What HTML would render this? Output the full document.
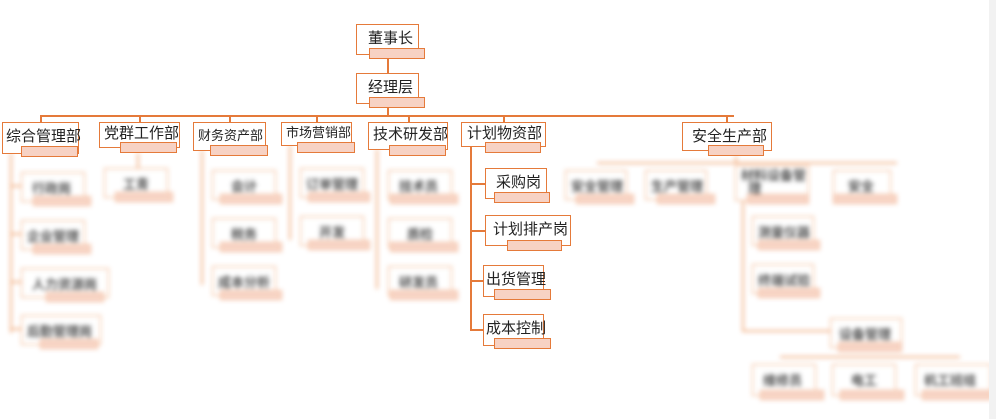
<!DOCTYPE html>
<html><head><meta charset="utf-8"><style>
body{margin:0;width:996px;height:419px;background:#fff;position:relative;overflow:hidden;font-family:"Liberation Sans","Noto Sans CJK SC",sans-serif}
.b{position:absolute;border:1.5px solid #e57a3a;background:#fff;box-sizing:border-box;color:#222;font-size:15px;line-height:1;padding:6px 0 0 5px;white-space:nowrap}
.p{position:absolute;background:#f7d2c4;border:1.5px solid #e57a3a;box-sizing:border-box}
.l{position:absolute;background:#e57a3a}
.bl{position:absolute;left:0;top:0;width:996px;height:419px;filter:blur(2.5px);opacity:.85}
.bl .b{color:#333;font-size:13px;font-weight:bold;padding-top:9px;border-color:#f0a878}
.bl .p{border-color:#f3b08a;background:#f6cdbb}
.bl .l{background:#f0a878}
</style></head><body>
<div class="bl">
<div class="l" style="left:10px;top:153px;width:1.5px;height:180px"></div>
<div class="l" style="left:10px;top:185px;width:12px;height:1.5px"></div>
<div class="l" style="left:10px;top:233px;width:12px;height:1.5px"></div>
<div class="l" style="left:10px;top:281px;width:12px;height:1.5px"></div>
<div class="l" style="left:10px;top:328px;width:12px;height:1.5px"></div>
<div class="b" style="left:21px;top:172px;width:64px;height:30px;padding-left:10px">行政岗</div><div class="p" style="left:33px;top:196px;width:58px;height:10px"></div>
<div class="b" style="left:21px;top:220px;width:64px;height:30px">企业管理</div><div class="p" style="left:33px;top:244px;width:58px;height:10px"></div>
<div class="b" style="left:21px;top:268px;width:88px;height:30px;padding-left:10px">人力资源岗</div><div class="p" style="left:46px;top:292px;width:58px;height:10px"></div>
<div class="b" style="left:21px;top:315px;width:80px;height:30px">后勤管理岗</div><div class="p" style="left:40px;top:339px;width:58px;height:10px"></div>
<div class="l" style="left:137px;top:153px;width:1.5px;height:15px"></div>
<div class="b" style="left:104px;top:168px;width:64px;height:30px;padding-left:18px">工青</div><div class="p" style="left:115px;top:192px;width:58px;height:10px"></div>
<div class="l" style="left:201px;top:150px;width:1.5px;height:135px"></div>
<div class="b" style="left:212px;top:170px;width:64px;height:30px;padding-left:18px">会计</div><div class="p" style="left:220px;top:194px;width:62px;height:10px"></div>
<div class="b" style="left:212px;top:218px;width:64px;height:30px;padding-left:18px">税务</div><div class="p" style="left:220px;top:242px;width:62px;height:10px"></div>
<div class="b" style="left:212px;top:266px;width:64px;height:30px">成本分析</div><div class="p" style="left:220px;top:290px;width:62px;height:10px"></div>
<div class="l" style="left:289px;top:145px;width:1.5px;height:95px"></div>
<div class="b" style="left:300px;top:168px;width:64px;height:30px">订单管理</div><div class="p" style="left:308px;top:192px;width:62px;height:10px"></div>
<div class="b" style="left:300px;top:216px;width:64px;height:30px;padding-left:18px">开发</div><div class="p" style="left:308px;top:240px;width:62px;height:10px"></div>
<div class="l" style="left:376px;top:149px;width:1.5px;height:140px"></div>
<div class="b" style="left:388px;top:170px;width:64px;height:30px;padding-left:10px">技术员</div><div class="p" style="left:390px;top:194px;width:68px;height:10px"></div>
<div class="b" style="left:388px;top:218px;width:64px;height:30px;padding-left:18px">质检</div><div class="p" style="left:390px;top:242px;width:68px;height:10px"></div>
<div class="b" style="left:388px;top:266px;width:64px;height:30px;padding-left:10px">研发员</div><div class="p" style="left:390px;top:290px;width:68px;height:10px"></div>
<div class="l" style="left:597px;top:162px;width:300px;height:1.5px"></div>
<div class="l" style="left:735px;top:156px;width:1.5px;height:6px"></div>
<div class="b" style="left:565px;top:170px;width:62px;height:30px">安全管理</div><div class="p" style="left:576px;top:194px;width:58px;height:10px"></div>
<div class="b" style="left:645px;top:170px;width:62px;height:30px">生产管理</div><div class="p" style="left:657px;top:194px;width:58px;height:10px"></div>
<div class="b" style="left:735px;top:165px;width:74px;height:36px;padding-top:3px">材料设备管<br>&nbsp;&nbsp;理</div><div class="p" style="left:747px;top:194px;width:62px;height:10px"></div>
<div class="b" style="left:833px;top:170px;width:58px;height:30px;padding-left:14px">安全</div><div class="p" style="left:833px;top:194px;width:64px;height:10px"></div>
<div class="l" style="left:742px;top:200px;width:1.5px;height:130px"></div>
<div class="l" style="left:742px;top:330px;width:90px;height:1.5px"></div>
<div class="b" style="left:752px;top:216px;width:62px;height:30px">测量仪器</div><div class="p" style="left:758px;top:240px;width:62px;height:10px"></div>
<div class="b" style="left:752px;top:264px;width:62px;height:30px">终端试验</div><div class="p" style="left:758px;top:288px;width:62px;height:10px"></div>
<div class="b" style="left:830px;top:318px;width:72px;height:30px;padding-left:8px">设备管理</div><div class="p" style="left:838px;top:342px;width:64px;height:10px"></div>
<div class="l" style="left:780px;top:356px;width:180px;height:1.5px"></div>
<div class="b" style="left:752px;top:364px;width:64px;height:32px;padding-left:10px">维修员</div><div class="p" style="left:760px;top:390px;width:64px;height:10px"></div>
<div class="b" style="left:832px;top:364px;width:64px;height:32px;padding-left:18px">电工</div><div class="p" style="left:840px;top:390px;width:64px;height:10px"></div>
<div class="b" style="left:915px;top:364px;width:76px;height:32px;padding-left:8px">机工班组</div><div class="p" style="left:922px;top:390px;width:70px;height:10px"></div>
</div>
<div style="position:absolute;left:989px;top:0;width:7px;height:419px;background:#f2f2f2"></div>
<div class="l" style="left:387px;top:55px;width:1.5px;height:18px"></div>
<div class="l" style="left:387px;top:104px;width:1.5px;height:11px"></div>
<div class="l" style="left:40px;top:115px;width:694px;height:1.5px"></div>
<div class="l" style="left:40px;top:115px;width:1.5px;height:7px"></div>
<div class="l" style="left:139px;top:115px;width:1.5px;height:7px"></div>
<div class="l" style="left:229px;top:115px;width:1.5px;height:7px"></div>
<div class="l" style="left:316px;top:115px;width:1.5px;height:7px"></div>
<div class="l" style="left:408px;top:115px;width:1.5px;height:7px"></div>
<div class="l" style="left:503px;top:115px;width:1.5px;height:7px"></div>
<div class="l" style="left:726px;top:115px;width:1.5px;height:7px"></div>
<div class="l" style="left:470px;top:146px;width:1.5px;height:184px"></div>
<div class="l" style="left:470px;top:183px;width:15px;height:1.5px"></div>
<div class="l" style="left:470px;top:230px;width:15px;height:1.5px"></div>
<div class="l" style="left:470px;top:280px;width:13px;height:1.5px"></div>
<div class="l" style="left:470px;top:329px;width:13px;height:1.5px"></div>
<div class="b" style="left:356px;top:24px;width:63px;height:31px;padding-left:11px">董事长</div><div class="p" style="left:369px;top:48px;width:56px;height:11px"></div>
<div class="b" style="left:356px;top:73px;width:63px;height:31px;padding-left:11px">经理层</div><div class="p" style="left:369px;top:97px;width:56px;height:11px"></div>
<div class="b" style="left:2px;top:122px;width:77px;height:32px;padding-left:3px">综合管理部</div><div class="p" style="left:21px;top:146px;width:57px;height:11px"></div>
<div class="b" style="left:99px;top:122px;width:81px;height:26px;padding-top:3px;padding-left:4px">党群工作部</div><div class="p" style="left:120px;top:142px;width:57px;height:11px"></div>
<div class="b" style="left:193px;top:122px;width:73px;height:29px;font-size:13px;padding-top:6px;padding-left:4px">财务资产部</div><div class="p" style="left:210px;top:145px;width:58px;height:11px"></div>
<div class="b" style="left:281px;top:122px;width:71px;height:24px;font-size:13px;padding-top:3px;padding-left:4px">市场营销部</div><div class="p" style="left:297px;top:142px;width:58px;height:11px"></div>
<div class="b" style="left:368px;top:122px;width:80px;height:28px;padding-top:4px;padding-left:4px">技术研发部</div><div class="p" style="left:389px;top:145px;width:57px;height:11px"></div>
<div class="b" style="left:461px;top:122px;width:85px;height:25px;padding-top:3px">计划物资部</div><div class="p" style="left:485px;top:142px;width:56px;height:11px"></div>
<div class="b" style="left:682px;top:122px;width:90px;height:29px;padding-left:9px">安全生产部</div><div class="p" style="left:708px;top:145px;width:56px;height:11px"></div>
<div class="b" style="left:485px;top:168px;width:62px;height:31px;padding-left:10px">采购岗</div><div class="p" style="left:494px;top:192px;width:56px;height:11px"></div>
<div class="b" style="left:485px;top:215px;width:86px;height:31px;padding-left:7px">计划排产岗</div><div class="p" style="left:507px;top:240px;width:55px;height:11px"></div>
<div class="b" style="left:483px;top:265px;width:61px;height:32px;padding-left:2px">出货管理</div><div class="p" style="left:494px;top:289px;width:57px;height:11px"></div>
<div class="b" style="left:483px;top:314px;width:61px;height:32px;padding-left:2px">成本控制</div><div class="p" style="left:494px;top:338px;width:57px;height:11px"></div>
</body></html>
